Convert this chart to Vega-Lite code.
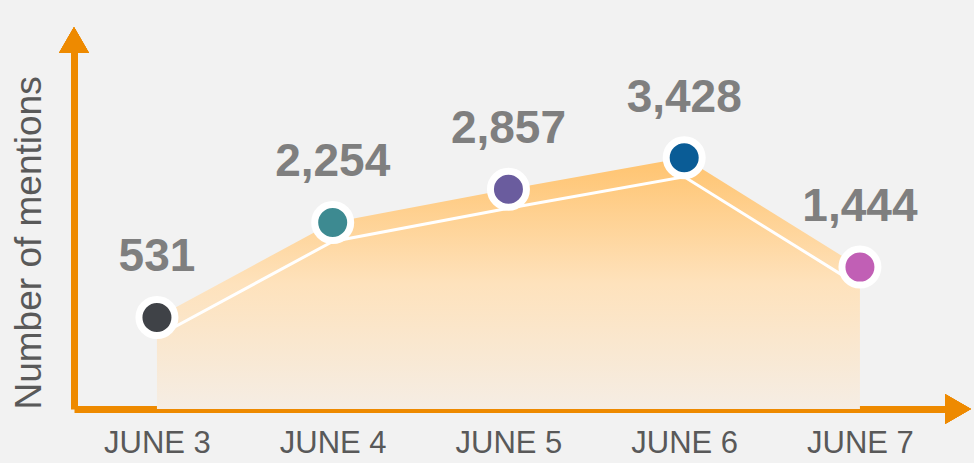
{
  "$schema": "https://vega.github.io/schema/vega-lite/v6.json",
  "autosize": "none",
  "width": 884,
  "height": 369,
  "padding": {"left": 74, "top": 40, "right": 16, "bottom": 54},
  "background": "#F2F2F2",
  "config": {"view": {"stroke": null}, "font": "Liberation Sans"},
  "data": {"values": [
    {"day": 3, "mentions": 531},
    {"day": 4, "mentions": 2254},
    {"day": 5, "mentions": 2857},
    {"day": 6, "mentions": 3428},
    {"day": 7, "mentions": 1444}
  ]},
  "encoding": {
    "x": {"field": "day", "type": "quantitative",
      "scale": {"domain": [2.528, 7.558], "nice": false, "zero": false},
      "axis": {"values": [3, 4, 5, 6, 7], "labelExpr": "'JUNE ' + datum.value", "title": null, "grid": false, "ticks": false,
        "domainColor": "#EE8A00", "domainWidth": 7, "labelFontSize": 31, "labelColor": "#595959", "labelFont": "Liberation Sans",
        "labelPadding": 19, "labelFlush": false, "labelOverlap": false}},
    "y": {"field": "mentions", "type": "quantitative",
      "scale": {"domain": [-1129, 5563], "nice": false, "zero": false},
      "axis": {"title": "Number of mentions", "labels": false, "ticks": false, "grid": false,
        "domainColor": "#EE8A00", "domainWidth": 7, "titleFontSize": 37, "titleFontWeight": "normal",
        "titleColor": "#595959", "titleFont": "Liberation Sans", "titleAnchor": "start", "titlePadding": 26}}
  },
  "layer": [
    {"mark": {"type": "area", "color": {"gradient": "linear", "x1": 0, "y1": 0, "x2": 0, "y2": 1,
        "stops": [{"offset": 0, "color": "#FFC36E"}, {"offset": 0.5, "color": "#FEE2BC"}, {"offset": 1, "color": "#F5EDE4"}]}},
     "encoding": {"y2": {"datum": -1129}}},
    {"mark": {"type": "line", "color": "#FFFFFF", "strokeWidth": 3, "yOffset": 19}},
    {"mark": {"type": "point", "shape": "circle", "filled": true, "size": 1296, "stroke": "#FFFFFF", "strokeWidth": 7, "opacity": 1, "strokeOpacity": 1},
     "encoding": {"color": {"field": "day", "type": "nominal", "legend": null,
       "scale": {"domain": [3, 4, 5, 6, 7], "range": ["#3F4247", "#3D8A91", "#6A5C9E", "#0A5C96", "#C15FB5"]}}}},
    {"mark": {"type": "text", "dy": -60, "fontSize": 46, "fontWeight": "bold", "color": "#7F7F7F", "font": "Liberation Sans"},
     "encoding": {"text": {"field": "mentions", "type": "quantitative", "format": ","}}},
    {"mark": {"type": "point", "shape": "triangle-up", "filled": true, "size": 900, "color": "#EE8A00", "opacity": 1},
     "encoding": {"x": {"datum": 2.528}, "y": {"datum": 5563}}},
    {"mark": {"type": "point", "shape": "triangle-right", "filled": true, "size": 900, "color": "#EE8A00", "opacity": 1},
     "encoding": {"x": {"datum": 7.558}, "y": {"datum": -1129}}}
  ]
}
